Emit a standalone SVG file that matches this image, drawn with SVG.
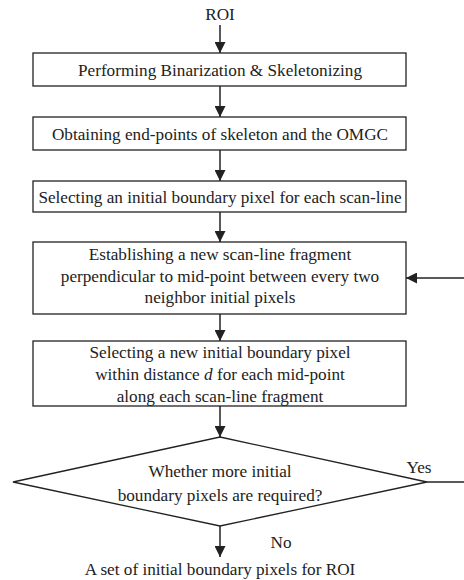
<svg xmlns="http://www.w3.org/2000/svg" width="464" height="580" viewBox="0 0 464 580">
<style>
.b{fill:#fff;stroke:#222;stroke-width:1.3}
.t{font-family:"Liberation Serif","Times New Roman",serif;font-size:17.2px;fill:#222;text-anchor:middle}
.c{stroke:#222;stroke-width:1.5;fill:none}
</style>
<defs>
<marker id="ah" markerWidth="12" markerHeight="11" refX="11" refY="5.5" orient="auto" markerUnits="userSpaceOnUse">
<path d="M0,0 L11,5.5 L0,11 Z" fill="#222"/>
</marker>
</defs>
<g id="roi"><text class="t" x="220" y="20">ROI</text></g>
<g id="n1"><rect class="b" x="33" y="53" width="373" height="33"/><text class="t" x="220" y="76">Performing Binarization &amp; Skeletonizing</text></g>
<g id="n2"><rect class="b" x="33" y="117" width="373" height="33"/><text class="t" x="220" y="140">Obtaining end-points of skeleton and the OMGC</text></g>
<g id="n3"><rect class="b" x="33" y="181" width="373" height="31"/><text class="t" x="220" y="203">Selecting an initial boundary pixel for each scan-line</text></g>
<g id="n4"><rect class="b" x="33" y="242" width="373" height="72"/>
<text class="t" x="220" y="260">Establishing a new scan-line fragment</text>
<text class="t" x="220" y="282">perpendicular to mid-point between every two</text>
<text class="t" x="220" y="303">neighbor initial pixels</text></g>
<g id="n5"><rect class="b" x="33" y="341" width="373" height="65"/>
<text class="t" x="220" y="358">Selecting a new initial boundary pixel</text>
<text class="t" x="220" y="380">within distance <tspan font-style="italic">d</tspan> for each mid-point</text>
<text class="t" x="220" y="402">along each scan-line fragment</text></g>
<g id="n6"><polygon class="b" points="220,437 427,482 220,526 13,482"/>
<text class="t" x="220" y="477">Whether more initial</text>
<text class="t" x="220" y="501">boundary pixels are required?</text></g>
<g id="out"><text class="t" x="220" y="575">A set of initial boundary pixels for ROI</text></g>
<g id="connectors">
<line class="c" x1="220" y1="25" x2="220" y2="53" marker-end="url(#ah)"/>
<line class="c" x1="220" y1="86" x2="220" y2="117" marker-end="url(#ah)"/>
<line class="c" x1="220" y1="150" x2="220" y2="181" marker-end="url(#ah)"/>
<line class="c" x1="220" y1="212" x2="220" y2="242" marker-end="url(#ah)"/>
<line class="c" x1="220" y1="314" x2="220" y2="341" marker-end="url(#ah)"/>
<line class="c" x1="220" y1="406" x2="220" y2="437" marker-end="url(#ah)"/>
<line class="c" x1="220" y1="526" x2="220" y2="557" marker-end="url(#ah)"/>
<line class="c" x1="427" y1="482" x2="464" y2="482"/>
<line class="c" x1="464" y1="278" x2="406" y2="278" marker-end="url(#ah)"/>
<text class="t" x="419" y="473">Yes</text>
<text class="t" x="281" y="548">No</text>
</g>
</svg>
